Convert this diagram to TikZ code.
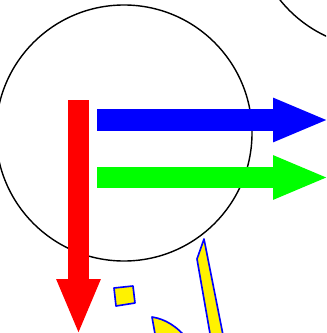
\documentclass[tikz,border=0pt]{standalone}
\usepackage{tikz}
\usetikzlibrary{arrows.meta}

\begin{document}
\begin{tikzpicture}[x=0.03cm, y=-0.03cm,
    ring/.style={draw=black, line width=1.2pt},
    patch/.style={draw=blue, fill=yellow, line width=1.4pt, line join=round},
    fatarrow/.style={line width=0.65cm,
      -{Triangle[length=1.68cm, width=1.2cm]}}]
  \useasboundingbox (0,0) rectangle (326,333);
  \clip (0,0) rectangle (326,333);
  % Circles
  \draw[ring] (124,133) circle [radius=3.84cm];
  \draw[ring] (380,-80) circle [radius=3.84cm];
  % Arrow end points
  \coordinate (redtop) at (78.5,100);
  \coordinate (redtip) at (78.5,335);
  \coordinate (bluetail) at (97,120);
  \coordinate (bluetip) at (329,120);
  \coordinate (greentail) at (97,177.5);
  \coordinate (greentip) at (329,177.5);
  % Red arrow
  \draw[fatarrow, red] (redtop) -- (redtip);
  % Blue arrow
  \draw[fatarrow, blue] (bluetail) -- (bluetip);
  % Green arrow
  \draw[fatarrow, green] (greentail) -- (greentip);
  % Yellow patches
  \draw[patch] (114,288) -- (133,286) -- (135,303) -- (116,306) -- cycle;
  \draw[patch] (204,239) -- (197,259) -- (212,345) -- (225,345) -- cycle;
  \draw[patch] (152,317) .. controls (165,319) and (177,326) .. (188,340)
    -- (157,345) -- cycle;
\end{tikzpicture}
\end{document}
